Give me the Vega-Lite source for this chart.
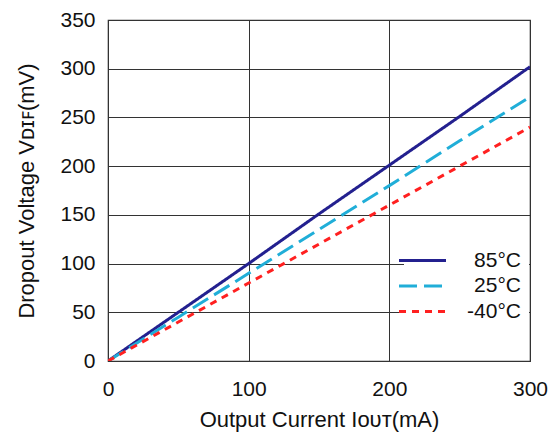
{
  "$schema": "https://vega.github.io/schema/vega-lite/v6.json",
  "width": 422,
  "height": 341,
  "autosize": {"type": "none"},
  "padding": {"left": 108, "top": 20, "right": 28, "bottom": 76},
  "background": "white",
  "config": {
    "font": "Liberation Sans",
    "view": {"stroke": "#333333", "strokeWidth": 1.2}
  },
  "data": {
    "values": [
      {"current": 0, "voltage": 0, "temp": "85°C"},
      {"current": 50, "voltage": 50, "temp": "85°C"},
      {"current": 100, "voltage": 100, "temp": "85°C"},
      {"current": 150, "voltage": 151, "temp": "85°C"},
      {"current": 200, "voltage": 201, "temp": "85°C"},
      {"current": 250, "voltage": 251, "temp": "85°C"},
      {"current": 300, "voltage": 302, "temp": "85°C"},
      {"current": 0, "voltage": 0, "temp": "25°C"},
      {"current": 50, "voltage": 45, "temp": "25°C"},
      {"current": 100, "voltage": 90, "temp": "25°C"},
      {"current": 150, "voltage": 135, "temp": "25°C"},
      {"current": 200, "voltage": 180, "temp": "25°C"},
      {"current": 250, "voltage": 226, "temp": "25°C"},
      {"current": 300, "voltage": 271, "temp": "25°C"},
      {"current": 0, "voltage": 0, "temp": "-40°C"},
      {"current": 50, "voltage": 40, "temp": "-40°C"},
      {"current": 100, "voltage": 80, "temp": "-40°C"},
      {"current": 150, "voltage": 120, "temp": "-40°C"},
      {"current": 200, "voltage": 160, "temp": "-40°C"},
      {"current": 250, "voltage": 200, "temp": "-40°C"},
      {"current": 300, "voltage": 240, "temp": "-40°C"}
    ]
  },
  "mark": {"type": "line", "strokeWidth": 3, "clip": true},
  "encoding": {
    "x": {
      "field": "current",
      "type": "quantitative",
      "scale": {"domain": [0, 300], "nice": false},
      "axis": {
        "title": "Output Current Iᴏᴜᴛ(mA)",
        "values": [0, 100, 200, 300],
        "grid": true,
        "gridColor": "#333333",
        "gridWidth": 1,
        "gridOpacity": 1,
        "ticks": false,
        "domain": false,
        "labelFontSize": 21,
        "labelColor": "#111111",
        "labelPadding": 17,
        "labelFlush": false,
        "titleFontSize": 22,
        "titleFontWeight": "normal",
        "titleColor": "#111111",
        "titlePadding": 10
      }
    },
    "y": {
      "field": "voltage",
      "type": "quantitative",
      "scale": {"domain": [0, 350], "nice": false},
      "axis": {
        "title": "Dropout Voltage Vᴅɪꜰ(mV)",
        "values": [0, 50, 100, 150, 200, 250, 300, 350],
        "grid": true,
        "gridColor": "#333333",
        "gridWidth": 1,
        "gridOpacity": 1,
        "ticks": false,
        "domain": false,
        "labelFontSize": 21,
        "labelColor": "#111111",
        "labelPadding": 13,
        "labelFlush": false,
        "titleFontSize": 22,
        "titleFontWeight": "normal",
        "titleColor": "#111111",
        "titlePadding": 21
      }
    },
    "color": {
      "field": "temp",
      "type": "nominal",
      "scale": {"domain": ["85°C", "25°C", "-40°C"], "range": ["#23208f", "#20aed8", "#ff2020"]},
      "legend": {
        "title": null,
        "orient": "none",
        "legendX": 296,
        "legendY": 222,
        "fillColor": "white",
        "padding": 8,
        "symbolType": "M-4,0H4",
        "symbolSize": 138,
        "symbolStrokeWidth": 3,
        "labelFontSize": 21,
        "labelColor": "#111111",
        "labelAlign": "right",
        "labelOffset": 88,
        "rowPadding": 3.5
      }
    },
    "strokeDash": {
      "field": "temp",
      "type": "nominal",
      "scale": {"domain": ["85°C", "25°C", "-40°C"], "range": [[1, 0], [18, 7], [7, 6]]},
      "legend": null
    }
  }
}
